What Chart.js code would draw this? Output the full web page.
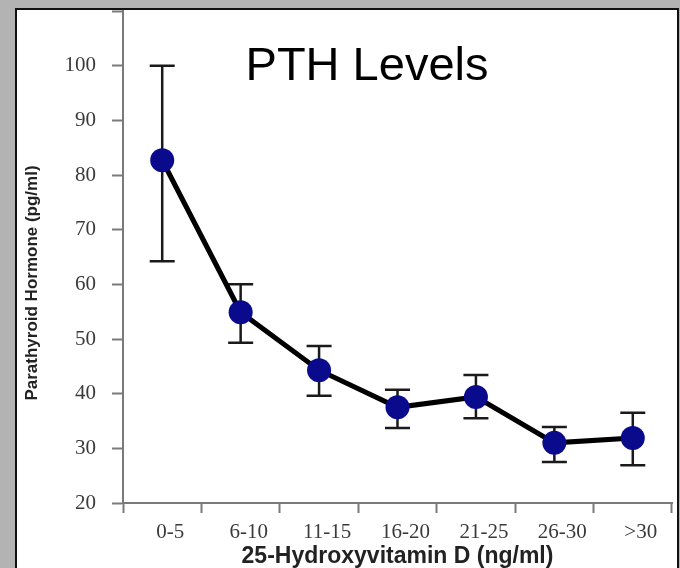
<!DOCTYPE html>
<html>
<head>
<meta charset="utf-8">
<title>PTH Levels</title>
<script src="https://cdn.jsdelivr.net/npm/chart.js@4.4.1/dist/chart.umd.min.js"></script>
<style>
  html, body { margin: 0; padding: 0; background: #b3b3b3; }
  #panel {
    position: absolute;
    left: 15px;
    top: 8px;
    width: 660px;
    height: 580px;
    border: 2px solid #111;
    background: #fff;
    overflow: hidden;
  }
  #pthChart { position: absolute; left: 0; top: 0; }
</style>
</head>
<body>
<div id="panel">
  <canvas id="pthChart" width="660" height="560"></canvas>
</div>
<script>
// categories and values
var categories = ['0-5', '6-10', '11-15', '16-20', '21-25', '26-30', '>30'];
var pthMean = [82.7, 54.9, 44.3, 37.5, 39.4, 31.0, 31.9];
var pthLower = [64.2, 49.3, 39.6, 33.7, 35.5, 27.5, 26.9];
var pthUpper = [100, 60.0, 48.7, 40.7, 43.4, 33.9, 36.5];
var yMin = 20;
var yMax = 110;
var yStep = 10;

var axisGray = '#7a7a7a';
var tickFont = { family: "'Liberation Serif', 'DejaVu Serif', serif", size: 21 };

//-------------
//- ERROR BARS -
//-------------
var errorBars = {
  id: 'errorBars',
  beforeDatasetsDraw: function(chart) {
    var ctx = chart.ctx;
    var x = chart.scales.x;
    var y = chart.scales.y;
    var cap = 12.5;
    ctx.save();
    ctx.strokeStyle = '#1a1a1a';
    ctx.lineWidth = 2.5;
    for (var i = 0; i < categories.length; i++) {
      var px = x.getPixelForValue(i);
      var top = y.getPixelForValue(pthUpper[i]);
      var bot = y.getPixelForValue(pthLower[i]);
      ctx.beginPath();
      ctx.moveTo(px, top);
      ctx.lineTo(px, bot);
      ctx.moveTo(px - cap, top);
      ctx.lineTo(px + cap, top);
      ctx.moveTo(px - cap, bot);
      ctx.lineTo(px + cap, bot);
      ctx.stroke();
    }
    ctx.restore();
  }
};

//-------------
//- LABELS -
//-------------
var extraText = {
  id: 'extraText',
  afterDraw: function(chart) {
    var ctx = chart.ctx;
    ctx.save();
    // big title inside the plot
    ctx.fillStyle = '#000';
    ctx.font = "47px 'Liberation Sans', Arial, sans-serif";
    ctx.textAlign = 'center';
    ctx.textBaseline = 'alphabetic';
    ctx.fillText('PTH Levels', 350, 70);
    // y axis title, sits a bit lower than the plot centre
    ctx.translate(15, 273);
    ctx.rotate(-Math.PI / 2);
    ctx.fillStyle = '#222';
    ctx.font = "bold 17px 'Liberation Sans', Arial, sans-serif";
    ctx.textBaseline = 'middle';
    ctx.fillText('Parathyroid Hormone (pg/ml)', 0, 0);
    ctx.restore();
  }
};

// the plot runs right up to the panel edges, so drop the label padding
function noEdgePadding(scale) {
  scale.paddingTop = 0;
  scale.paddingBottom = 0;
  scale.paddingLeft = 0;
  scale.paddingRight = 0;
}

var pthCanvas = document.getElementById('pthChart').getContext('2d');
var pthChart = new Chart(pthCanvas, {
  type: 'line',
  data: {
    labels: categories,
    datasets: [{
      label: 'PTH',
      data: pthMean,
      borderColor: '#000',
      borderWidth: 5,
      tension: 0,
      pointRadius: 12,
      pointHoverRadius: 12,
      pointBackgroundColor: '#0a0a8c',
      pointBorderColor: '#0a0a8c',
      pointBorderWidth: 0,
      clip: false
    }]
  },
  options: {
    responsive: false,
    animation: false,
    layout: {
      autoPadding: false,
      padding: { top: 1, right: 5, bottom: 0, left: 0 }
    },
    plugins: {
      legend: { display: false },
      tooltip: { enabled: false }
    },
    scales: {
      x: {
        type: 'category',
        offset: true,
        border: { color: axisGray, width: 2 },
        grid: {
          offset: true,
          drawOnChartArea: false,
          drawTicks: true,
          tickLength: 10,
          tickWidth: 2,
          tickColor: axisGray
        },
        ticks: {
          color: '#3a3a3a',
          font: tickFont,
          padding: 7,
          labelOffset: 8,
          maxRotation: 0,
          autoSkip: false
        },
        title: {
          display: true,
          text: '25-Hydroxyvitamin D (ng/ml)',
          color: '#222',
          font: { family: "'Liberation Sans', Arial, sans-serif", size: 23, weight: 'bold' },
          padding: { top: 0, bottom: 0 }
        },
        afterFit: function(scale) {
          scale.height = 67;
          noEdgePadding(scale);
        }
      },
      y: {
        min: yMin,
        max: yMax,
        border: { color: axisGray, width: 2 },
        grid: {
          drawOnChartArea: false,
          drawTicks: true,
          tickLength: 11,
          tickWidth: 2,
          tickColor: axisGray
        },
        ticks: {
          stepSize: yStep,
          color: '#3a3a3a',
          font: tickFont,
          padding: 16,
          callback: function(v) { return v === yMax ? '' : v; }
        },
        afterFit: function(scale) {
          scale.width = 106;
          noEdgePadding(scale);
        }
      }
    }
  },
  plugins: [errorBars, extraText]
});
</script>
</body>
</html>
